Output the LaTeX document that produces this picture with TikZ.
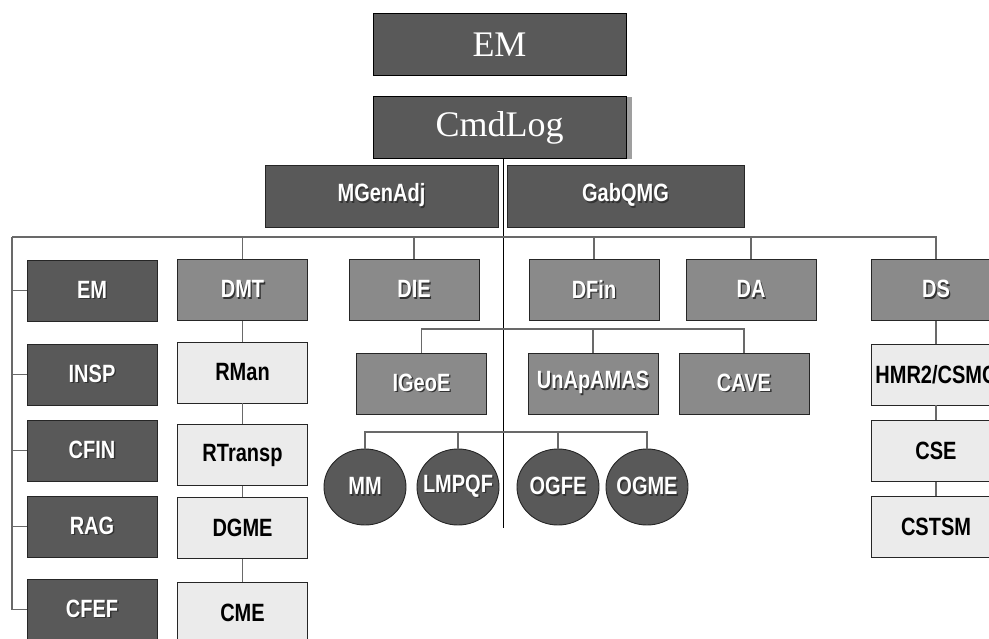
\documentclass[tikz,border=0pt]{standalone}
\usepackage{fontspec}
\usepackage{xcolor}
\usetikzlibrary{shapes.geometric, shadows, positioning}
\setmainfont{Liberation Sans}
\newfontfamily\boxfont[FakeStretch=0.8]{Liberation Sans}
\newfontfamily\topfont{Liberation Serif}
\definecolor{orgdark}{RGB}{89,89,89}
\definecolor{orgmid}{RGB}{138,138,138}
\definecolor{orglight}{RGB}{235,235,235}
\definecolor{orgline}{RGB}{105,105,105}
% white label with a small dark shadow
\newcommand{\shd}[1]{\makebox[0pt][l]{\hspace{1.4pt}\raisebox{-1.4pt}{\textcolor{black!80}{#1}}}#1}

\begin{document}
\begin{tikzpicture}[x=1pt, y=-1pt,
    topbox/.style={rectangle, draw=black, line width=1pt, fill=orgdark, text=white, minimum width=253pt, minimum height=62pt, font=\topfont\fontsize{36}{40}\selectfont},
    unit/.style={rectangle, draw=black!85, line width=0.9pt, minimum width=130pt, minimum height=61pt, font=\boxfont\bfseries\fontsize{25}{28}\selectfont},
    darkunit/.style={unit, fill=orgdark, text=white},
    midunit/.style={unit, fill=orgmid, text=white},
    lightunit/.style={unit, fill=orglight, text=black},
    cell/.style={ellipse, draw=black!85, line width=0.9pt, fill=orgdark, text=white, minimum width=82pt, minimum height=76pt, inner sep=0pt, font=\boxfont\bfseries\fontsize{25}{28}\selectfont},
    link/.style={draw=orgline, line width=1.3pt}
]
    \useasboundingbox (0,0) rectangle (989,639);
    \clip (0,0) rectangle (989,639);

    \node[topbox] (em) at (499.5,44.5) {EM};
    \node[topbox, drop shadow={shadow xshift=6pt, shadow yshift=-1pt, fill=black!75}] (cmdlog) at (499.5,127.5) {CmdLog};
    \node[darkunit, minimum width=233pt, minimum height=62pt] (mgenadj) at (381.5,196) {\shd{MGenAdj}};
    \node[darkunit, minimum width=237pt, minimum height=62pt] (gabqmg) at (625.5,196) {\shd{GabQMG}};

    % first column
    \node[darkunit] (em2) at (92,290.5) {\shd{EM}};
    \node[darkunit] (insp) at (92,374.5) {\shd{INSP}};
    \node[darkunit] (cfin) at (92,450.5) {\shd{CFIN}};
    \node[darkunit] (rag) at (92,526.5) {\shd{RAG}};
    \node[darkunit] (cfef) at (92,609.5) {\shd{CFEF}};

    % DMT column
    \node[midunit] (dmt) at (242.5,290) {\shd{DMT}};
    \node[lightunit] (rman) at (242.5,372.5) {RMan};
    \node[lightunit] (rtransp) at (242.5,455) {RTransp};
    \node[lightunit] (dgme) at (242.5,528) {DGME};
    \node[lightunit] (cme) at (242.5,612.5) {CME};

    % middle
    \node[midunit] (die) at (414,290) {\shd{DIE}};
    \node[midunit] (dfin) at (594,290) {\shd{DFin}};
    \node[midunit] (da) at (751,290) {\shd{DA}};
    \node[midunit] (igeoe) at (421.5,383.5) {\shd{IGeoE}};
    \node[midunit] (unapamas) at (593,383.5) {\shd{UnApAMAS}};
    \node[midunit] (cave) at (744,383.5) {\shd{CAVE}};
    \node[cell] (mm) at (365,487) {\makebox[0pt]{\shd{MM}}};
    \node[cell] (lmpqf) at (458,487) {\makebox[0pt]{\shd{LMPQF}}};
    \node[cell] (ogfe) at (558,487) {\makebox[0pt]{\shd{OGFE}}};
    \node[cell] (ogme) at (647,487) {\makebox[0pt]{\shd{OGME}}};

    % DS column
    \node[midunit] (ds) at (936,290) {\shd{DS}};
    \node[lightunit] (hmr) at (936,374.5) {HMR2/CSMC};
    \node[lightunit] (cse) at (936,451) {CSE};
    \node[lightunit] (cstsm) at (936,526.5) {CSTSM};

    \coordinate (spine) at (503,528);
    \coordinate (bus) at (12,237);
    \coordinate (sub1) at (503,329);
    \coordinate (sub2) at (503,432);

    \draw[line width=1pt] (cmdlog.south -| spine) -- (spine);
    \draw[link] (bus) -- (ds.north |- bus) -- (ds.north);
    \draw[link] (bus) |- (cfef.west);
    \foreach \u in {em2, insp, cfin, rag}
        \draw[link] (bus |- \u.west) -- (\u.west);
    \foreach \u in {dmt, die, dfin, da}
        \draw[link] (\u.north |- bus) -- (\u.north);
    \draw[link] (dmt) -- (rman) -- (rtransp) -- (dgme) -- (cme);
    \draw[link] (ds) -- (hmr) -- (cse) -- (cstsm);

    \draw[link] (igeoe.north) -- (igeoe.north |- sub1) -- (cave.north |- sub1) -- (cave.north);
    \draw[link] (unapamas.north) -- (unapamas.north |- sub1);
    \draw[link] (mm.north) -- (mm.north |- sub2) -- (ogme.north |- sub2) -- (ogme.north);
    \foreach \u in {lmpqf, ogfe}
        \draw[link] (\u.north) -- (\u.north |- sub2);
\end{tikzpicture}
\end{document}
